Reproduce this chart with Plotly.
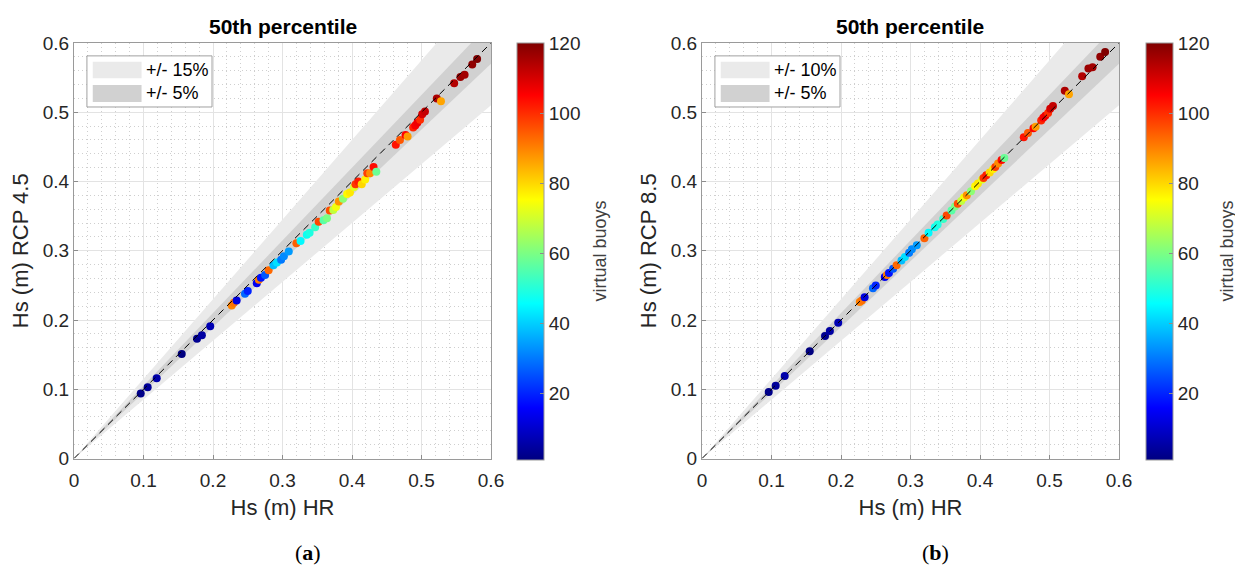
import plotly.graph_objects as go

# ---------------- data ----------------
buoy = [2, 4, 6, 1, 3, 5, 7, 90, 92, 12, 28, 20, 14, 91, 18, 26, 93, 38, 42, 30,
        32, 34, 94, 45, 47, 49, 52, 97, 56, 60, 96, 68, 74, 88, 62, 76, 78, 72, 99, 102,
        80, 77, 98, 89, 104, 58, 103, 95, 105, 87, 101, 106, 107, 100, 110, 112, 115, 86, 114, 117,
        116, 118, 120]
hs_hr = [0.096, 0.106, 0.119, 0.155, 0.177, 0.184, 0.196, 0.227, 0.230, 0.234, 0.246, 0.250, 0.263, 0.266, 0.269, 0.275, 0.280, 0.287, 0.292, 0.298,
         0.302, 0.309, 0.320, 0.326, 0.335, 0.339, 0.347, 0.352, 0.359, 0.364, 0.368, 0.373, 0.377, 0.381, 0.387, 0.393, 0.397, 0.403, 0.405, 0.409,
         0.414, 0.419, 0.422, 0.426, 0.431, 0.435, 0.463, 0.469, 0.477, 0.480, 0.488, 0.491, 0.494, 0.498, 0.501, 0.505, 0.522, 0.528, 0.547, 0.556,
         0.562, 0.573, 0.580]
hs_rcp45 = [0.094, 0.103, 0.116, 0.151, 0.173, 0.178, 0.191, 0.221, 0.225, 0.228, 0.238, 0.242, 0.253, 0.258, 0.261, 0.265, 0.272, 0.279, 0.283, 0.287,
            0.292, 0.299, 0.311, 0.314, 0.323, 0.326, 0.334, 0.342, 0.344, 0.347, 0.358, 0.359, 0.363, 0.371, 0.375, 0.382, 0.384, 0.392, 0.396, 0.400,
            0.396, 0.403, 0.412, 0.412, 0.421, 0.414, 0.453, 0.460, 0.467, 0.465, 0.478, 0.481, 0.485, 0.489, 0.497, 0.501, 0.520, 0.516, 0.542, 0.551,
            0.554, 0.569, 0.577]
hs_rcp85 = [0.096, 0.105, 0.119, 0.155, 0.177, 0.184, 0.196, 0.226, 0.228, 0.233, 0.246, 0.250, 0.262, 0.265, 0.268, 0.274, 0.279, 0.286, 0.291, 0.297,
            0.302, 0.308, 0.318, 0.326, 0.334, 0.338, 0.346, 0.351, 0.358, 0.364, 0.368, 0.372, 0.377, 0.380, 0.386, 0.393, 0.397, 0.403, 0.405, 0.409,
            0.413, 0.418, 0.421, 0.426, 0.431, 0.434, 0.464, 0.470, 0.477, 0.479, 0.488, 0.492, 0.495, 0.499, 0.505, 0.509, 0.531, 0.526, 0.552, 0.563,
            0.565, 0.580, 0.587]

axis_ticks = [0, 0.1, 0.2, 0.3, 0.4, 0.5, 0.6]
cbar_ticks = [20, 40, 60, 80, 100, 120]
outer_band = 0.15
inner_band = 0.05
legend_a = ["+/- 15%", "+/- 5%"]
legend_b = ["+/- 10%", "+/- 5%"]
titles = ["50th percentile", "50th percentile"]
ytitles = ["Hs (m) RCP 4.5", "Hs (m) RCP 8.5"]
captions = ["(<b>a</b>)", "(<b>b</b>)"]
cbar_title = "virtual buoys"

jet = [[0.0, "rgb(0,0,128)"], [0.125, "rgb(0,0,255)"], [0.375, "rgb(0,255,255)"],
       [0.625, "rgb(255,255,0)"], [0.875, "rgb(255,0,0)"], [1.0, "rgb(128,0,0)"]]

FONT = "Liberation Sans, Arial, sans-serif"
TXT = "#262626"
LIGHT = "#eaeaea"
DARK = "#d1d1d1"

W, H = 1235, 565

def px(xp):
    return xp / W

def py(yp):
    return 1 - yp / H

plot_x = [(74, 491), (702, 1119)]
plot_top, plot_bot = 43, 458.5
cb_x = [517, 1146]
cb_top, cb_bot = 43, 460

fig = go.Figure()
xmax = axis_ticks[-1]

for i, ys in enumerate([hs_rcp45, hs_rcp85]):
    xa = "x" if i == 0 else "x2"
    ya = "y" if i == 0 else "y2"
    fig.add_trace(go.Scatter(x=[0, xmax, xmax, 0], y=[0, xmax * (1 + outer_band), xmax * (1 - outer_band), 0],
                             fill="toself", fillcolor=LIGHT, line=dict(width=0), mode="lines",
                             hoverinfo="skip", showlegend=False, xaxis=xa, yaxis=ya))
    fig.add_trace(go.Scatter(x=[0, xmax, xmax, 0], y=[0, xmax * (1 + inner_band), xmax * (1 - inner_band), 0],
                             fill="toself", fillcolor=DARK, line=dict(width=0), mode="lines",
                             hoverinfo="skip", showlegend=False, xaxis=xa, yaxis=ya))
    fig.add_trace(go.Scatter(x=hs_hr, y=ys, mode="markers",
                             marker=dict(size=8, color=buoy, coloraxis="coloraxis" if i == 0 else "coloraxis2",
                                         line=dict(width=0)),
                             showlegend=False, xaxis=xa, yaxis=ya))
    fig.add_trace(go.Scatter(x=[0, xmax], y=[0, xmax], mode="lines",
                             line=dict(color="black", width=1, dash="7px,5px"),
                             showlegend=False, hoverinfo="skip", xaxis=xa, yaxis=ya))

def axis_common(domain, anchor, title, is_x):
    return dict(
        domain=domain, anchor=anchor, range=[0, xmax], autorange=False, automargin=False,
        tickvals=axis_ticks, ticktext=[("%g" % v) for v in axis_ticks],
        ticks="inside", ticklen=4, tickcolor="#8c8c8c",
        tickfont=dict(family=FONT, size=19, color=TXT),
        showline=True, linecolor="#9a9a9a", linewidth=1, mirror=True,
        showgrid=True, gridcolor="#e3e3e3", gridwidth=1,
        zeroline=False,
        minor=dict(dtick=0.02, showgrid=True, gridcolor="#cfcfcf", griddash="1px,3px", gridwidth=1, ticks=""),
        title=dict(text=title, font=dict(family=FONT, size=22, color=TXT), standoff=9 if is_x else 8),
        ticklabelstandoff=5 if is_x else 0,
        fixedrange=True,
    )

ydom = [py(plot_bot), py(plot_top)]
layout = dict(
    width=W, height=H, margin=dict(l=0, r=0, t=0, b=0, autoexpand=False),
    paper_bgcolor="white", plot_bgcolor="white", showlegend=False,
    xaxis=axis_common([px(plot_x[0][0]), px(plot_x[0][1])], "y", "Hs (m) HR", True),
    yaxis=axis_common(ydom, "x", ytitles[0], False),
    xaxis2=axis_common([px(plot_x[1][0]), px(plot_x[1][1])], "y2", "Hs (m) HR", True),
    yaxis2=axis_common(ydom, "x2", ytitles[1], False),
)

def cax(xp):
    return dict(
        colorscale=jet, cmin=1, cmax=120,
        colorbar=dict(
            x=px(xp), xanchor="left", xpad=0, ypad=0,
            y=(py(cb_top) + py(cb_bot)) / 2, yanchor="middle",
            len=(cb_bot - cb_top) / H, lenmode="fraction", thickness=27, thicknessmode="pixels",
            outlinewidth=1, outlinecolor="#9a9a9a",
            tickvals=cbar_ticks, ticks="inside", ticklen=4, tickcolor="#8c8c8c",
            tickfont=dict(family=FONT, size=19, color=TXT),
        ),
    )

layout["coloraxis"] = cax(cb_x[0])
layout["coloraxis2"] = cax(cb_x[1])

fig.update_layout(**layout)

shapes = []
annotations = []
for i in range(2):
    xr = "x domain" if i == 0 else "x2 domain"
    yr = "y domain" if i == 0 else "y2 domain"
    cx = px((plot_x[i][0] + plot_x[i][1]) / 2)
    annotations.append(dict(text="<b>%s</b>" % titles[i], x=cx, y=py(27), xref="paper", yref="paper",
                            xanchor="center", yanchor="middle", showarrow=False,
                            font=dict(family=FONT, size=21, color="black")))
    annotations.append(dict(text=captions[i], x=px([308, 935][i]), y=py(552), xref="paper", yref="paper",
                            xanchor="center", yanchor="middle", showarrow=False,
                            font=dict(family="Liberation Serif, Times New Roman, serif", size=22, color="black")))
    annotations.append(dict(text=cbar_title, x=px([600, 1227][i]), y=(py(cb_top) + py(cb_bot)) / 2,
                            xref="paper", yref="paper", xanchor="center", yanchor="middle", textangle=-90,
                            showarrow=False, font=dict(family=FONT, size=18, color="#404040")))
    shapes.append(dict(type="rect", xref=xr, yref=yr, x0=0.031, x1=0.331, y0=0.846, y1=0.969,
                       fillcolor="white", line=dict(color="#a0a0a0", width=1), layer="above"))
    shapes.append(dict(type="rect", xref=xr, yref=yr, x0=0.045, x1=0.162, y0=0.915, y1=0.955,
                       fillcolor=LIGHT, line=dict(width=0), layer="above"))
    shapes.append(dict(type="rect", xref=xr, yref=yr, x0=0.045, x1=0.162, y0=0.858, y1=0.899,
                       fillcolor=DARK, line=dict(width=0), layer="above"))
    labels = legend_a if i == 0 else legend_b
    for lab, yy in zip(labels, [0.935, 0.879]):
        annotations.append(dict(text=lab, x=0.168, y=yy, xref=xr, yref=yr, xanchor="left", yanchor="middle",
                                showarrow=False, font=dict(family=FONT, size=18, color="black")))

fig.update_layout(shapes=shapes, annotations=annotations)
fig.write_html("out.html", config={"displayModeBar": False},
               post_script="document.body.style.margin='0';document.body.style.overflow='hidden';")
